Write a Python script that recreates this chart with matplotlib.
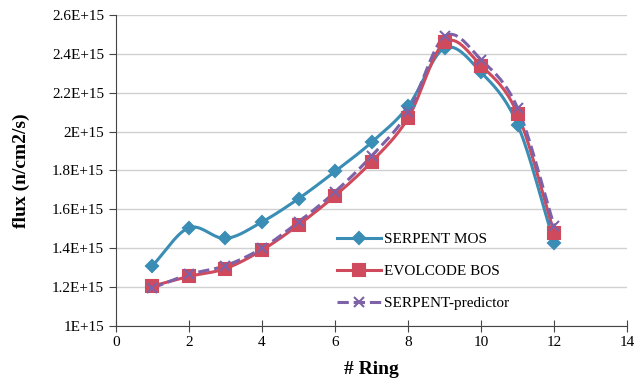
import numpy as np
import matplotlib
matplotlib.use('Agg')
import matplotlib.pyplot as plt

ring = [1, 2, 3, 4, 5, 6, 7, 8, 9, 10, 11, 12]
serpent_mos = [1.31, 1.505, 1.45, 1.535, 1.655, 1.795, 1.945, 2.13, 2.43, 2.305, 2.035, 1.425]
evolcode_bos = [1.205, 1.255, 1.295, 1.39, 1.52, 1.67, 1.845, 2.07, 2.46, 2.34, 2.09, 1.48]
serpent_pred = [1.195, 1.265, 1.31, 1.40, 1.535, 1.69, 1.875, 2.10, 2.49, 2.37, 2.12, 1.515]
yticks = [1.0, 1.2, 1.4, 1.6, 1.8, 2.0, 2.2, 2.4, 2.6]
ytick_labels = ['1E+15', '1.2E+15', '1.4E+15', '1.6E+15', '1.8E+15', '2E+15', '2.2E+15', '2.4E+15', '2.6E+15']


def smooth(x, y, n=20):
    # catmull-rom curve through the points, like excel's smoothed line
    x = np.asarray(x, float)
    y = np.asarray(y, float)
    px = np.concatenate([[2 * x[0] - x[1]], x, [2 * x[-1] - x[-2]]])
    py = np.concatenate([[2 * y[0] - y[1]], y, [2 * y[-1] - y[-2]]])
    t = np.linspace(0, 1, n)
    xs, ys = [], []
    for i in range(1, len(px) - 2):
        for p, out in ((px, xs), (py, ys)):
            p0, p1, p2, p3 = p[i - 1], p[i], p[i + 1], p[i + 2]
            out.extend(0.5 * (2 * p1 + (-p0 + p2) * t + (2 * p0 - 5 * p1 + 4 * p2 - p3) * t ** 2
                              + (-p0 + 3 * p1 - 3 * p2 + p3) * t ** 3))
    return xs, ys


plt.rcParams['font.family'] = ['Liberation Serif', 'DejaVu Serif']

fig = plt.figure(figsize=(6.44, 3.87), dpi=100)
ax = fig.add_axes([0.180, 0.158, 0.794, 0.803])

blue = '#3a8db5'
red = '#cf4a5c'
purple = '#7d62a8'

series = [
    (serpent_mos, blue, 'D', '-', 6, 'SERPENT MOS'),
    (evolcode_bos, red, 's', '-', 8, 'EVOLCODE BOS'),
    (serpent_pred, purple, 'x', '--', 7, 'SERPENT-predictor'),
]
handles = []
for vals, c, m, ls, ms, lab in series:
    sx, sy = smooth(ring, vals)
    ax.plot(sx, sy, color=c, lw=2.2, ls=ls, zorder=3)
    ax.plot(ring, vals, ls='none', marker=m, color=c, ms=ms, mew=1.5, zorder=4)
    h, = ax.plot([], [], color=c, lw=2.2, ls=ls, marker=m, ms=ms, mew=1.5, label=lab)
    handles.append(h)

ax.set_xlim(0, 14)
ax.set_ylim(1.0, 2.6)
ax.set_xticks(range(0, 15, 2))
ax.set_yticks(yticks)
ax.set_yticklabels(ytick_labels)
ax.grid(axis='y', color='#d0d0d0', lw=1)
ax.set_axisbelow(True)
for s in ['top', 'right']:
    ax.spines[s].set_visible(False)
for s in ['left', 'bottom']:
    ax.spines[s].set_color('#444444')
ax.tick_params(axis='both', labelsize=11, color='#444444', length=5)
ax.tick_params(axis='x', direction='inout', length=8, pad=3)

ax.set_ylabel('flux (n/cm2/s)', fontsize=14, fontweight='bold', labelpad=16)
ax.set_xlabel('# Ring', fontsize=14, fontweight='bold', labelpad=9)

ax.legend(handles=handles, loc='lower left', bbox_to_anchor=(0.42, 0.03), frameon=False,
          fontsize=11, handlelength=2.9, handletextpad=0.2, labelspacing=1.2, borderaxespad=0)

fig.savefig('out.png', dpi=100)
